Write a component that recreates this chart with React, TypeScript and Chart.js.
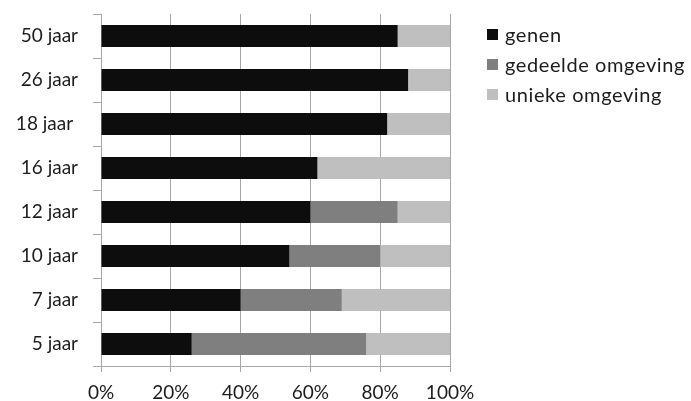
import React, { useEffect, useRef } from "react";
import { Chart, registerables } from "chart.js";

Chart.register(...registerables);

const categories = ["50 jaar", "26 jaar", "18 jaar ", "16 jaar", "12 jaar", "10 jaar", "7 jaar", "5 jaar"];
const genen = [85, 88, 82, 62, 60, 54, 40, 26];
const gedeeldeOmgeving = [0, 0, 0, 0, 25, 26, 29, 50];
const uniekeOmgeving = [15, 12, 18, 38, 15, 20, 31, 24];
const xTicks = [0, 20, 40, 60, 80, 100];

const seriesNames = ["genen", "gedeelde omgeving", "unieke omgeving"];
const seriesColors = ["#0d0d0d", "#7f7f7f", "#bfbfbf"];
const FONT = "Lato, 'Open Sans', sans-serif";

export default function App() {
  const ref = useRef<HTMLCanvasElement | null>(null);
  useEffect(() => {
    if (!ref.current) return;
    const values = [genen, gedeeldeOmgeving, uniekeOmgeving];
    const chart = new Chart(ref.current, {
      type: "bar",
      data: {
        labels: categories,
        datasets: seriesNames.map((name, i) => ({
          label: name,
          data: values[i],
          backgroundColor: seriesColors[i],
          borderWidth: 0,
          barPercentage: 0.5,
          categoryPercentage: 1,
        })),
      },
      options: {
        indexAxis: "y",
        animation: false,
        responsive: false,
        maintainAspectRatio: false,
        layout: { padding: { top: 14, right: 241, left: 0, bottom: 0 } },
        plugins: { legend: { display: false }, tooltip: { enabled: false } },
        scales: {
          x: {
            stacked: true,
            min: 0,
            max: 100,
            afterBuildTicks: (scale: any) => {
              scale.ticks = xTicks.map((v) => ({ value: v }));
            },
            afterFit: (scale: any) => {
              scale.height = 35;
              scale.paddingLeft = 0;
              scale.paddingRight = 0;
            },
            grid: { color: "#a6a6a6", lineWidth: 1, tickLength: 6, drawTicks: true },
            border: { color: "#a6a6a6", width: 1 },
            ticks: {
              padding: 9,
              color: "#1c1c1c",
              font: { family: FONT, size: 19 },
              callback: (v: any) => v + "%",
            },
          },
          y: {
            stacked: true,
            afterFit: (scale: any) => {
              scale.width = 101;
              scale.paddingTop = 0;
              scale.paddingBottom = 0;
            },
            grid: { drawOnChartArea: false, color: "#a6a6a6", tickLength: 8, offset: true },
            border: { color: "#a6a6a6", width: 1 },
            ticks: {
              padding: 15,
              color: "#1c1c1c",
              font: { family: FONT, size: 19 },
            },
          },
        },
      },
    });
    return () => chart.destroy();
  }, []);

  return (
    <div style={{ position: "fixed", left: 0, top: 0, width: 691, height: 401, background: "#fff" }}>
      <canvas ref={ref} width={691} height={401} style={{ position: "absolute", left: 0, top: 0 }} />
      <div style={{ position: "absolute", left: 487, top: 19, fontFamily: FONT, fontSize: 20, letterSpacing: 0.6, color: "#1c1c1c" }}>
        {seriesNames.map((n, i) => (
          <div key={n} style={{ display: "flex", alignItems: "center", height: 30, whiteSpace: "nowrap" }}>
            <span style={{ display: "inline-block", width: 11, height: 11, background: seriesColors[i], marginRight: 7 }} />
            <span>{n}</span>
          </div>
        ))}
      </div>
    </div>
  );
}
